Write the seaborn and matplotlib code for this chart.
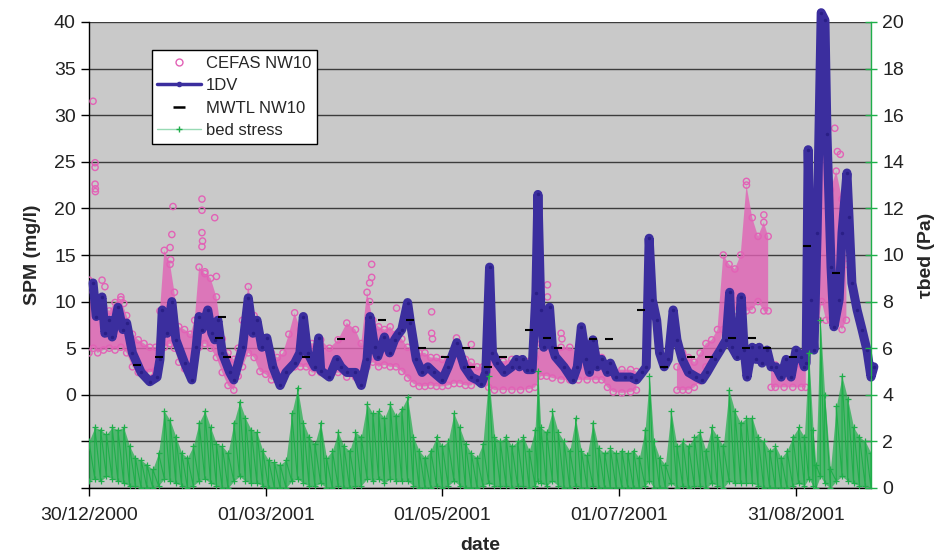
import matplotlib
matplotlib.use('Agg')
import matplotlib.pyplot as plt
from matplotlib.lines import Line2D
from matplotlib.ticker import FuncFormatter
import numpy as np
import pandas as pd
import seaborn as sns

nan = np.nan
start = pd.Timestamp('2000-12-30')

# 1DV model SPM (mg/l), day offsets from 30/12/2000
dv_day = [1.4, 2.5, 4.5, 5.5, 7, 8, 10, 11.7, 13, 15,
          18, 21, 23.5, 24.5, 25.3, 27, 28.6, 30, 33, 35.5,
          37, 38, 39, 41, 42.4, 43.4, 44.5, 46, 48.6, 50,
          53, 55, 56.6, 58, 59.7, 61.4, 63.5, 66, 68, 71,
          72.8, 74, 75.5, 78, 79.3, 80, 83, 85.5, 87, 89,
          92, 94, 96, 97, 98.6, 99.7, 102, 103.8, 105.5, 107,
          108, 110, 111, 113, 115, 117, 119, 122, 124, 127,
          129.6, 132, 134, 135.5, 137, 138.3, 139.3, 141, 143.4, 146,
          147.6, 148.6, 149.7, 151.4, 153, 154.3, 155, 156, 157, 159,
          160, 161, 164, 167, 168.6, 170, 171.7, 172.8, 174, 175.5,
          177, 179, 180, 182, 185, 187, 189, 191, 192.4, 193.4,
          194.5, 196, 197, 198.6, 200, 201.7, 203, 204.8, 207, 209.7,
          211.7, 213.4, 216, 218, 220, 221.2, 222, 223.8, 225.2, 226.2,
          227.2, 229, 230.3, 231.4, 232.4, 234.1, 235.5, 237.2, 239, 240.7,
          242.4, 244.1, 245.9, 247, 247.6, 248.3, 249.3, 250.3, 251.4, 252.8,
          254.1, 254.8, 256.2, 257.2, 259, 260, 261.7, 262.4, 263.4, 265.2,
          266.9, 268.6, 270, 271]
dv_spm = [12.0, 8.4, 10.5, 6.6, 8.0, 6.2, 9.4, 7.0, 7.7, 4.5,
          2.4, 1.4, 1.9, 3.8, 9.1, 6.6, 10.0, 5.9, 3.4, 1.6,
          5.1, 8.4, 7.0, 9.1, 6.6, 5.9, 8.0, 4.5, 2.4, 1.6,
          5.1, 10.4, 6.6, 8.0, 5.1, 6.1, 3.0, 1.0, 2.4, 3.4,
          4.5, 8.4, 4.5, 3.0, 6.1, 2.6, 1.9, 3.8, 3.0, 2.4,
          2.4, 1.0, 3.8, 8.4, 5.1, 4.1, 6.2, 4.5, 5.9, 6.6,
          7.0, 9.9, 7.7, 3.8, 2.4, 3.0, 2.4, 1.6, 3.0, 5.6,
          3.0, 1.9, 1.6, 1.2, 2.4, 13.7, 4.5, 3.4, 2.4, 3.0,
          3.8, 3.0, 3.8, 2.7, 2.7, 10.9, 21.5, 9.1, 5.1, 9.4,
          5.1, 4.1, 3.0, 1.6, 3.0, 7.3, 3.8, 2.4, 5.9, 3.0,
          3.8, 2.4, 3.4, 1.9, 1.9, 1.9, 1.6, 2.4, 3.0, 16.8,
          10.2, 8.0, 4.5, 3.0, 3.8, 9.1, 5.9, 3.8, 2.4, 1.9,
          1.6, 2.4, 3.8, 4.8, 5.9, 11.0, 5.1, 4.1, 10.5, 4.8,
          1.9, 5.1, 3.8, 5.1, 3.4, 4.8, 3.0, 3.0, 1.9, 3.8,
          1.9, 4.8, 4.1, 3.0, 3.4, 26.3, 10.2, 4.8, 17.4, 41.0,
          40.2, 28.0, 13.7, 7.3, 10.2, 17.4, 23.8, 19.1, 12.0, 9.1,
          7.0, 4.8, 1.9, 3.0]

# CEFAS NW10 observations: spread of the dense point cloud (low / high)
cef_day = [0, 1.5, 3, 5, 7, 9, 11, 13, 15, 17,
           19, 21, 23, 24.5, 26, 28, 29.5, 31, 33, 35,
           36.5, 38, 40, 42, 44, 46, 48, 50, 51.5, 53,
           55, 57, 59, 61, 63, 65, 67, 69, 71, 73,
           75, 77, 80, 83, 86, 89, 92, 94, 96, 98,
           100, 102, 104, 106, 108, 110, 112, 114, 116, 118,
           120, 122, 124, 126, 128, 130, 132, 134, 136, 138,
           140, 143, 146, 149, 152, 154, 156, 158, 160, 163,
           166, 169, 172, 175, 177, 179, 181, 184, 187, 189,
           196, 203, 205, 207, 209, 211, 213, 215, 217, 219,
           221, 223, 225, 227, 229, 231, 233, 234.5, 235, 235.5,
           237, 240, 243, 246, 247.5, 249, 250, 252, 253, 254.5,
           256, 258, 260, 261.5]
cef_lo = [4.5, 5.0, 4.5, 4.8, 5.0, 4.8, 5.1, 4.5, 3.0, 2.4,
          2.4, 2.4, 2.6, 4.0, 5.1, 5.5, 5.0, 3.5, 2.8, 2.4,
          4.5, 5.1, 5.5, 5.0, 4.0, 2.4, 1.0, 0.5, 2.0, 3.0,
          4.5, 4.0, 2.5, 2.2, 1.6, 1.6, 1.6, 2.7, 3.0, 3.0,
          3.0, 2.4, 2.4, 2.0, 2.4, 1.9, 1.9, 1.5, 3.0, 3.5,
          3.0, 3.2, 3.0, 3.0, 2.5, 1.8, 1.2, 0.9, 0.9, 1.0,
          0.9, 0.9, 1.0, 1.2, 1.2, 1.0, 1.0, 1.6, 1.6, 0.8,
          0.5, 0.5, 0.5, 0.5, 0.6, 0.8, 2.0, 2.0, 1.8, 1.6,
          1.6, 1.6, 1.6, 1.6, 1.6, 0.8, 0.3, 0.2, 0.3, 0.5,
          nan, 0.5, 0.5, 0.5, 0.8, 1.5, 3.0, 3.4, 4.5, 7.0,
          9.0, 9.0, 9.5, 9.0, 9.1, 10.0, 9.0, 9.0, nan, 0.8,
          0.8, 0.8, 0.8, 0.8, 0.8, nan, 5.0, 8.0, 10.0, 8.0,
          8.0, 8.0, 7.0, 8.0]
cef_hi = [12.3, 11.0, 9.9, 9.5, 9.0, 9.9, 10.2, 8.5, 6.5, 5.9,
          5.5, 5.1, 5.1, 9.0, 15.5, 14.0, 11.0, 7.3, 7.0, 6.5,
          8.0, 13.7, 13.0, 12.5, 10.5, 6.0, 4.5, 3.8, 5.0, 8.0,
          11.6, 8.5, 6.0, 5.1, 4.5, 4.0, 4.5, 6.5, 8.8, 7.0,
          5.9, 5.5, 5.9, 5.0, 5.9, 7.7, 7.0, 5.5, 11.0, 8.0,
          7.3, 7.0, 7.3, 6.5, 6.0, 5.1, 5.0, 4.5, 4.5, 4.0,
          4.0, 3.8, 3.8, 4.5, 4.2, 3.8, 3.5, 3.0, 3.0, 3.8,
          3.8, 3.6, 3.8, 3.8, 3.6, 4.0, 5.5, 5.5, 5.1, 5.1,
          5.1, 4.5, 4.5, 4.5, 4.0, 3.0, 2.7, 2.7, 2.7, 2.5,
          nan, 3.0, 4.5, 4.0, 3.5, 4.5, 5.5, 5.9, 7.0, 15.0,
          14.0, 13.5, 15.0, 22.5, 19.0, 17.0, 18.5, 17.0, nan, 3.2,
          3.2, 3.0, 3.0, 3.2, 3.2, nan, 14.0, 30.0, 36.0, 30.0,
          22.0, 24.0, 21.0, 14.0]
# isolated high CEFAS readings
cef_out_day = [1.4, 2.1, 2.1, 2.1, 2.2, 2.2, 4.5, 5.5, 11, 12,
               28, 28.2, 28.6, 29, 39, 39, 39, 39.2, 39, 43.4,
               40, 44, 96.9, 96.9, 97.6, 97.6, 106.2, 118.3, 118.3, 118.6,
               126.9, 132, 158.3, 158.3, 163, 163.3, 227, 233, 253.7, 257.5,
               258.4, 259.4]
cef_out_spm = [31.5, 24.9, 24.4, 22.6, 22.1, 21.8, 12.3, 11.6, 10.5, 9.8,
               15.8, 14.5, 17.2, 20.2, 21.0, 19.8, 17.4, 16.5, 15.9, 19.0,
               13.2, 12.7, 12.0, 10.0, 14.0, 12.6, 9.3, 8.9, 6.6, 6.0,
               6.1, 5.4, 11.8, 10.5, 6.6, 6.0, 22.9, 19.3, 36.5, 28.6,
               26.1, 25.8]

# MWTL NW10 samples
mw_day = [16.5, 24, 45, 46, 47.5, 75, 87, 101, 111, 115,
          123, 130, 132, 137.6, 143, 152, 158, 162, 174, 179.6,
          190.6, 198.6, 208, 214, 222, 227, 229, 234, 243, 248,
          258]
mw_spm = [3.2, 4.1, 6.1, 8.4, 4.1, 4.1, 6.0, 8.0, 8.0, 5.0,
          4.1, 5.0, 3.0, 3.0, 4.1, 7.0, 6.1, 5.0, 6.0, 6.0,
          9.1, 3.0, 4.1, 4.1, 6.1, 5.0, 6.1, 5.0, 4.1, 16.0,
          13.1]

# bed stress (Pa): low / high of the tidal band
bs_day = [0, 2, 4, 6, 8, 10, 12, 14, 16, 18,
          20, 22, 24, 26, 28, 30, 32, 34, 36, 38,
          40, 42, 44, 46, 48, 50, 52, 54, 56, 58,
          60, 62, 64, 66, 68, 70, 72, 74, 76, 78,
          80, 82, 84, 86, 88, 90, 92, 94, 96, 98,
          100, 102, 104, 106, 108, 110, 112, 114, 116, 118,
          120, 122, 124, 126, 128, 130, 132, 134, 136, 138,
          140, 142, 144, 146, 148, 150, 152, 154, 155, 156,
          158, 160, 162, 164, 166, 168, 170, 172, 174, 176,
          178, 180, 182, 184, 186, 188, 190, 192, 193.5, 195,
          197, 199, 201, 203, 205, 207, 209, 211, 213, 215,
          217, 219, 221, 223, 225, 227, 229, 231, 233, 235,
          237, 239, 241, 243, 245, 247, 248.5, 250, 251, 252.5,
          254, 256, 258, 260, 262, 264, 266, 268, 270]
bs_hi = [2.0, 2.6, 2.5, 2.3, 2.6, 2.5, 2.6, 1.8, 1.3, 1.2,
         1.0, 0.8, 1.5, 3.3, 2.9, 2.2, 1.5, 1.3, 1.8, 2.8,
         3.3, 2.6, 1.9, 1.8, 1.5, 2.8, 3.7, 3.0, 2.5, 2.4,
         1.6, 1.2, 1.1, 1.0, 1.2, 3.2, 4.3, 2.8, 2.2, 1.9,
         2.8, 1.3, 1.6, 2.4, 1.8, 1.6, 2.4, 2.2, 3.6, 3.2,
         3.3, 3.0, 3.6, 3.1, 3.4, 3.9, 2.2, 1.6, 1.3, 1.6,
         2.2, 1.8, 2.0, 3.2, 2.6, 1.9, 1.5, 1.3, 1.9, 4.8,
         2.2, 2.0, 2.2, 1.8, 2.0, 2.2, 1.6, 2.5, 5.0, 2.6,
         2.4, 3.3, 2.4, 2.0, 1.6, 3.0, 1.6, 1.4, 2.8, 1.7,
         1.5, 1.7, 1.5, 1.6, 1.5, 1.6, 1.3, 2.5, 4.8, 2.0,
         1.3, 1.0, 3.3, 1.8, 2.0, 1.8, 2.2, 2.4, 1.6, 2.6,
         2.2, 1.8, 4.2, 3.3, 2.8, 3.0, 3.0, 2.2, 2.0, 1.6,
         1.8, 1.3, 1.6, 2.2, 2.6, 2.2, 5.8, 2.5, 1.0, 7.2,
         4.0, 0.8, 3.5, 4.8, 3.8, 2.6, 2.2, 2.0, 1.5]
bs_lo = [0.3, 0.4, 0.3, 0.5, 0.4, 0.3, 0.2, 0.1, 0.1, 0.0,
         0.0, 0.0, 0.1, 0.4, 0.3, 0.2, 0.1, 0.0, 0.1, 0.3,
         0.4, 0.2, 0.1, 0.0, 0.0, 0.3, 0.5, 0.3, 0.2, 0.2,
         0.1, 0.0, 0.0, 0.0, 0.0, 0.3, 0.4, 0.2, 0.1, 0.1,
         0.2, 0.0, 0.0, 0.1, 0.0, 0.0, 0.1, 0.1, 0.4, 0.3,
         0.4, 0.2, 0.4, 0.3, 0.3, 0.3, 0.1, 0.0, 0.0, 0.0,
         0.1, 0.0, 0.1, 0.3, 0.1, 0.0, 0.0, 0.0, 0.1, 0.2,
         0.1, 0.1, 0.1, 0.0, 0.1, 0.1, 0.0, 0.1, 0.3, 0.2,
         0.1, 0.3, 0.1, 0.0, 0.0, 0.1, 0.0, 0.0, 0.1, 0.0,
         0.0, 0.0, 0.0, 0.0, 0.0, 0.0, 0.0, 0.1, 0.3, 0.0,
         0.0, 0.0, 0.2, 0.0, 0.1, 0.0, 0.1, 0.1, 0.0, 0.2,
         0.1, 0.0, 0.3, 0.2, 0.2, 0.2, 0.2, 0.1, 0.0, 0.0,
         0.0, 0.0, 0.0, 0.1, 0.2, 0.1, 0.4, 0.1, 0.0, 0.5,
         0.2, 0.0, 0.3, 0.5, 0.3, 0.2, 0.1, 0.1, 0.0]

tick_dates = ['30/12/2000', '01/03/2001', '01/05/2001', '01/07/2001', '31/08/2001']

blue = '#3b2e9e'
pink = '#e262b6'
green = '#1fae4a'


def to_date(days):
    return start + pd.to_timedelta(np.asarray(days, dtype=float), unit='D')


sns.set_style('white')
plt.rcParams['font.family'] = ['Liberation Sans', 'DejaVu Sans']

fig = plt.figure(figsize=(9.42, 5.57), dpi=100)
ax = fig.add_axes([89 / 942, 69 / 557, 782 / 942, 466 / 557])
ax.set_facecolor('#c9c9c9')

# CEFAS cloud
cef_x = to_date(cef_day)
ax.fill_between(cef_x, cef_lo, cef_hi, color=pink, alpha=0.8, lw=0, zorder=2)
cef_pts = pd.DataFrame({
    'date': list(cef_x) * 2 + list(to_date(cef_out_day)),
    'spm': cef_lo + cef_hi + cef_out_spm,
}).dropna()
sns.scatterplot(data=cef_pts, x='date', y='spm', ax=ax, marker='o', s=20,
                facecolor='none', edgecolor=pink, linewidth=1.0, zorder=3)

# 1DV model
dv = pd.DataFrame({'date': to_date(dv_day), 'spm': dv_spm})
sns.lineplot(data=dv, x='date', y='spm', ax=ax, color=blue, lw=6.5,
             estimator=None, sort=False, zorder=4)
sns.lineplot(data=dv, x='date', y='spm', ax=ax, color='#2a1f86', lw=0,
             marker='o', markersize=2.5, markeredgewidth=0,
             estimator=None, sort=False, zorder=5)
for ln in ax.lines:
    ln.set_clip_on(False)

# MWTL samples
mw = pd.DataFrame({'date': to_date(mw_day), 'spm': mw_spm})
sns.scatterplot(data=mw, x='date', y='spm', ax=ax, marker='_', s=40,
                color='black', linewidth=1.5, zorder=6)

ax.set_ylim(-10, 40)
ax.set_yticks(range(-10, 41, 5))
ax.yaxis.set_major_formatter(FuncFormatter(lambda v, p: '%d' % v if v >= 0 else ''))
ax.yaxis.grid(True, color='#3c3c3c', lw=1.0)
ax.xaxis.grid(False)
ax.set_axisbelow(True)

tick_pos = pd.to_datetime(tick_dates, format='%d/%m/%Y')
ax.set_xlim(start, start + pd.Timedelta(days=270))
ax.set_xticks(tick_pos)
ax.set_xticklabels(tick_dates)

ax.tick_params(axis='both', direction='out', length=6, width=1, color='black',
               labelsize=14, labelcolor='#222222', left=True, bottom=True)
ax.tick_params(axis='x', pad=8)
for side in ['top', 'right']:
    ax.spines[side].set_visible(False)
for side in ['left', 'bottom']:
    ax.spines[side].set_color('black')
    ax.spines[side].set_linewidth(1.0)

ax.set_xlabel('date', fontsize=14, fontweight='bold', labelpad=9)
ax.set_ylabel('SPM (mg/l)', fontsize=14, fontweight='bold', labelpad=9)

# bed stress on secondary axis
ax2 = ax.twinx()
bs_x = to_date(bs_day)
ax2.fill_between(bs_x, bs_lo, bs_hi, color=green, alpha=0.7, lw=0)
zz_x = []
zz_y = []
for d, lo, hi in zip(bs_x, bs_lo, bs_hi):
    zz_x += [d, d]
    zz_y += [lo, hi]
zz = pd.DataFrame({'date': zz_x, 'tau': zz_y})
sns.lineplot(data=zz, x='date', y='tau', ax=ax2, color=green, lw=0.8,
             marker='+', markersize=5, markeredgewidth=0.9, markeredgecolor=green,
             estimator=None, sort=False)

ax2.set_ylim(0, 20)
ax2.set_yticks(range(0, 21, 2))
ax2.tick_params(axis='y', direction='inout', length=8, width=1, color=green,
                labelsize=14, labelcolor='#222222', right=True, left=False,
                labelleft=False, pad=4)
for side in ['top', 'left', 'bottom']:
    ax2.spines[side].set_visible(False)
ax2.spines['right'].set_color(green)
ax2.spines['right'].set_linewidth(1.0)
ax2.set_ylabel('\u03c4bed (Pa)', fontsize=14, fontweight='bold', labelpad=10,
               rotation=90)
ax2.set_xlim(start, start + pd.Timedelta(days=270))

handles = [
    Line2D([], [], ls='none', marker='o', mfc='none', mec=pink, ms=5),
    Line2D([], [], color=blue, lw=2.5, marker='o', ms=3, mfc=blue, mec=blue),
    Line2D([], [], ls='none', marker='_', color='black', ms=8, mew=1.8),
    Line2D([], [], color='#98dab4', lw=1, marker='+', mec=green, ms=5),
]
labels = ['CEFAS NW10', '1DV', 'MWTL NW10', 'bed stress']
leg = ax2.legend(handles, labels, loc='upper left', bbox_to_anchor=(0.08, 0.94),
                 frameon=True, fancybox=False, edgecolor='black', framealpha=1,
                 fontsize=12, handlelength=2.6, handletextpad=0.3,
                 borderpad=0.35, labelspacing=0.45, borderaxespad=0)
leg.get_frame().set_linewidth(1.0)

fig.savefig('out.png', dpi=100)
